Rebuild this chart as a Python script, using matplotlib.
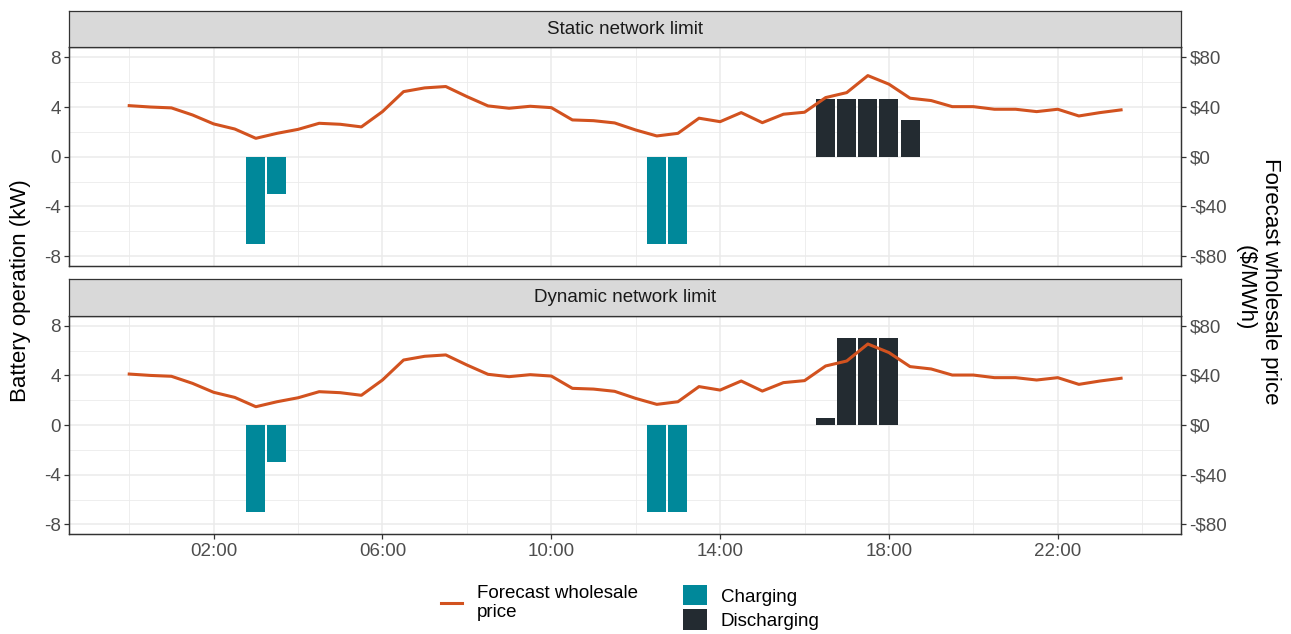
import numpy as np
import matplotlib
matplotlib.use("Agg")
import matplotlib.pyplot as plt
from matplotlib.lines import Line2D
from matplotlib.patches import Patch

plt.rcParams['font.family'] = ['Liberation Sans', 'DejaVu Sans']

# ---------------- data ----------------
hours = np.arange(48) * 0.5  # 00:00 .. 23:30, half-hourly
price = [41.1, 40.0, 39.3, 33.6, 26.4, 22.3, 14.8, 18.8, 22.0, 26.9, 26.1, 24.0,
         36.3, 52.4, 55.4, 56.5, 48.4, 40.9, 39.0, 40.6, 39.5, 29.6, 29.0, 27.2,
         21.5, 16.7, 18.8, 31.0, 28.2, 35.5, 27.4, 34.2, 35.8, 47.6, 51.6, 65.3,
         58.4, 47.1, 45.2, 40.3, 40.3, 38.2, 38.2, 36.3, 38.2, 32.8, 35.5, 37.7]

panels = ["Static network limit", "Dynamic network limit"]
charge_times = [3.0, 3.5, 12.5, 13.0]
charge_static = [-7, -3, -7, -7]
charge_dynamic = [-7, -3, -7, -7]
discharge_times = [16.5, 17.0, 17.5, 18.0, 18.5]
discharge_static = [4.65, 4.65, 4.65, 4.65, 2.95]
discharge_dynamic = [0.6, 7.0, 7.0, 7.0, 0.0]

x_major = [2, 6, 10, 14, 18, 22]
x_major_labels = ["02:00", "06:00", "10:00", "14:00", "18:00", "22:00"]
x_minor = [0, 4, 8, 12, 16, 20, 24]
y_major = [-8, -4, 0, 4, 8]
y_minor = [-6, -2, 2, 6]
price_ticks = [-80, -40, 0, 40, 80]
price_labels = ["-$80", "-$40", "$0", "$40", "$80"]
right_title = ["Forecast wholesale price", "($/MWh)"]

# ---------------- style ----------------
C_CHARGE = "#00889A"
C_DISCH = "#232B31"
C_LINE = "#D2521F"
C_GRID = "#EBEBEB"
C_BORDER = "#333333"
C_TICKLBL = "#4D4D4D"
FS_TICK = 13.5
FS_TITLE = 16

W_PX, H_PX = 1291, 634
fig = plt.figure(figsize=(W_PX / 100, H_PX / 100), dpi=100)

def fx(px):
    return px / W_PX

def fy(py):
    return 1 - py / H_PX

left_px, right_px = 69.3, 1181
panel_px = [(47.4, 266.0), (315.8, 534.4)]
strip_px = [(10.9, 47.4), (278.5, 315.8)]

charge_sets = [charge_static, charge_dynamic]
disch_sets = [discharge_static, discharge_dynamic]

for i, name in enumerate(panels):
    top, bot = panel_px[i]
    ax = fig.add_axes([fx(left_px), fy(bot), fx(right_px - left_px), (bot - top) / H_PX])
    ax.set_xlim(-1.42, 24.92)
    ax.set_ylim(-8.8, 8.8)
    ax.set_xticks(x_major)
    ax.set_xticks(x_minor, minor=True)
    ax.set_yticks(y_major)
    ax.set_yticks(y_minor, minor=True)
    ax.set_yticklabels([str(v) for v in y_major])
    ax.grid(which='major', color=C_GRID, lw=1.1)
    ax.grid(which='minor', color=C_GRID, lw=0.6)
    ax.set_axisbelow(True)
    ax.tick_params(which='minor', length=0)
    ax.tick_params(which='major', length=3.5, width=0.9, color=C_BORDER,
                   labelsize=FS_TICK, labelcolor=C_TICKLBL, pad=2.5)
    if i == 0:
        ax.tick_params(axis='x', which='both', bottom=False, labelbottom=False)
    else:
        ax.set_xticklabels(x_major_labels)
    for s in ax.spines.values():
        s.set_color(C_BORDER)
        s.set_linewidth(0.9)

    ax.bar(charge_times, charge_sets[i], width=0.45, color=C_CHARGE, zorder=2)
    ax.bar(discharge_times, disch_sets[i], width=0.45, color=C_DISCH, zorder=2)

    ax2 = ax.twinx()
    ax2.set_ylim(-88, 88)
    ax2.plot(hours, price, color=C_LINE, lw=2.2, solid_joinstyle='round', zorder=3)
    ax2.set_yticks(price_ticks)
    ax2.set_yticklabels(price_labels)
    ax2.tick_params(which='major', length=3.5, width=0.9, color=C_BORDER,
                    labelsize=FS_TICK, labelcolor=C_TICKLBL, pad=2.5)
    for s in ax2.spines.values():
        s.set_color(C_BORDER)
        s.set_linewidth(0.9)

    st, sb = strip_px[i]
    sax = fig.add_axes([fx(left_px), fy(sb), fx(right_px - left_px), (sb - st) / H_PX])
    sax.set_facecolor("#D9D9D9")
    sax.set_xticks([])
    sax.set_yticks([])
    for s in sax.spines.values():
        s.set_color(C_BORDER)
        s.set_linewidth(0.9)
    sax.text(0.5, 0.5, name, ha='center', va='center', fontsize=FS_TICK,
             color="#1A1A1A", transform=sax.transAxes)

# axis titles
fig.text(fx(21), fy(291), "Battery operation (kW)", rotation=90, ha='center',
         va='center', fontsize=FS_TITLE, color='black')
fig.text(fx(1271), fy(281), right_title[0], rotation=270, ha='center',
         va='center', fontsize=FS_TITLE, color='black')
fig.text(fx(1245), fy(288), right_title[1], rotation=270, ha='center',
         va='center', fontsize=FS_TITLE, color='black')

# legends
h_line = [Line2D([0], [0], color=C_LINE, lw=2.2)]
leg1 = fig.legend(h_line, ["Forecast wholesale\nprice"], loc='center left',
                  bbox_to_anchor=(fx(440.7), fy(603)), frameon=False,
                  fontsize=FS_TICK, handlelength=1.12, handletextpad=0.82,
                  borderpad=0, borderaxespad=0)
for t in leg1.get_texts():
    t.set_linespacing(1.1)
h_bars = [Patch(facecolor=C_CHARGE), Patch(facecolor=C_DISCH)]
fig.legend(h_bars, ["Charging", "Discharging"], loc='upper left',
           bbox_to_anchor=(fx(683), fy(585)), frameon=False, fontsize=FS_TICK,
           handlelength=1.28, handleheight=1.3, handletextpad=0.73,
           labelspacing=0.2, borderpad=0, borderaxespad=0)

fig.savefig("out.png", dpi=100)
